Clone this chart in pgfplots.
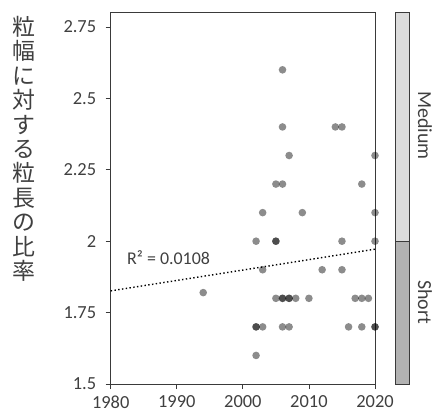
\documentclass[border=0pt]{standalone}
\usepackage{fontspec}
\setmainfont{Carlito}
\newfontfamily\cjk{Noto Sans CJK JP}
\usepackage{pgfplots}
\pgfplotsset{compat=1.18}
\definecolor{axgray}{HTML}{3A3A3A}
\definecolor{txtgray}{HTML}{404040}
\definecolor{medfill}{HTML}{DCDCDC}
\definecolor{shortfill}{HTML}{B2B2B2}

\pgfplotstableread{
x y
2006 2.6
2006 2.4
2014 2.4
2015 2.4
2007 2.3
2020 2.3
2005 2.2
2006 2.2
2018 2.2
2003 2.1
2009 2.1
2020 2.1
2002 2.0
2005 2.0
2005 2.0
2015 2.0
2020 2.0
2003 1.9
2012 1.9
2015 1.9
1994 1.82
2005 1.8
2006 1.8
2006 1.8
2007 1.8
2007 1.8
2008 1.8
2010 1.8
2017 1.8
2018 1.8
2019 1.8
2002 1.7
2002 1.7
2003 1.7
2006 1.7
2007 1.7
2016 1.7
2018 1.7
2020 1.7
2020 1.7
2002 1.6
}\pts

\begin{document}
\begin{tikzpicture}[x=1bp,y=1bp]
\useasboundingbox (0,0) rectangle (437,416);
\begin{axis}[
 at={(110.7bp,32bp)}, anchor=south west, scale only axis,
 width=264.3bp, height=371.3bp,
 xmin=1980, xmax=2020, ymin=1.5, ymax=2.8,
 xtick={1980,1990,2000,2010,2020},
 xticklabels={1980,1990,2000,2010,2020},
 ytick={1.5,1.75,2,2.25,2.5,2.75},
 yticklabels={1.5,1.75,2,2.25,2.5,2.75},
 tick align=outside, xtick pos=bottom, ytick pos=left,
 major tick length=5bp,
 tick style={axgray, line width=0.8bp},
 axis line style={axgray, line width=0.9bp},
 ticklabel style={font=\fontsize{18.5}{20}\selectfont, text=txtgray},
 yticklabel style={xshift=-6bp},
 xticklabel style={yshift=-3bp},
 clip=false,
]
\addplot[only marks, mark=*, mark size=3.8bp, draw=none, fill=black, fill opacity=0.45,
  mark options={draw=none, draw opacity=0, fill=black, fill opacity=0.45}] table[x=x,y=y] {\pts};
\addplot[black, line width=1.4bp, dash pattern=on 1.4bp off 2.4bp] coordinates {(1980,1.826) (2020,1.972)};
\end{axis}
\begin{axis}[
 at={(395bp,32bp)}, anchor=south west, scale only axis,
 width=14bp, height=371.3bp,
 xmin=0, xmax=1, ymin=1.5, ymax=2.8,
 axis lines=none, clip=false,
]
\addplot[fill=shortfill, draw=axgray, line width=0.9bp] coordinates {(0,1.5) (1,1.5) (1,2.0) (0,2.0)} -- cycle;
\addplot[fill=medfill, draw=axgray, line width=0.9bp] coordinates {(0,2.0) (1,2.0) (1,2.8) (0,2.8)} -- cycle;
\end{axis}
\node[rotate=-90, anchor=base west, inner sep=0pt, font=\fontsize{20}{22}\selectfont, text=txtgray] at (418bp,325bp) {Medium};
\node[rotate=-90, anchor=base west, inner sep=0pt, font=\fontsize{20}{22}\selectfont, text=txtgray] at (418bp,136bp) {Short};
\node[anchor=west, inner sep=0pt, font=\fontsize{18}{20}\selectfont, text=txtgray] at (127bp,158bp) {R² = 0.0108};
\node[anchor=north, inner sep=0pt, align=center, font=\cjk\fontsize{23}{24.5}\selectfont, text=txtgray] at (24bp,400bp) {粒\\幅\\に\\対\\す\\る\\粒\\長\\の\\比\\率};
\end{tikzpicture}
\end{document}
